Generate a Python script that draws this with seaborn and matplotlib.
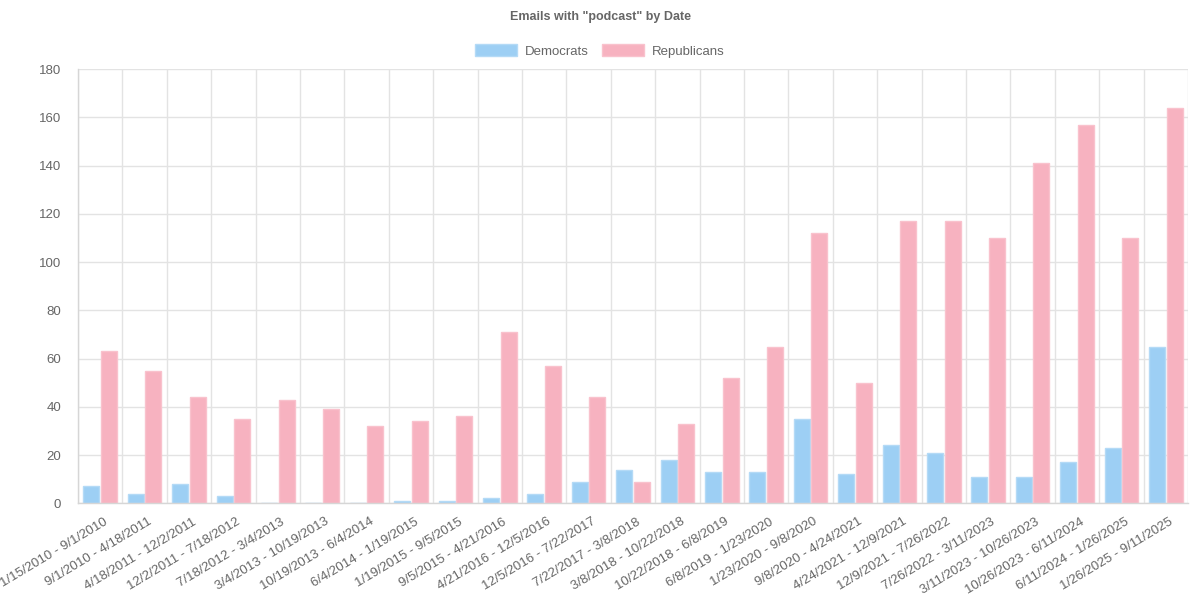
import numpy as np
import pandas as pd
import matplotlib
matplotlib.use("Agg")
import matplotlib.pyplot as plt
import matplotlib.transforms as mtrans
import seaborn as sns
from matplotlib.patches import Patch

# date ranges on the x axis
periods = [
    "1/15/2010 - 9/1/2010", "9/1/2010 - 4/18/2011", "4/18/2011 - 12/2/2011",
    "12/2/2011 - 7/18/2012", "7/18/2012 - 3/4/2013", "3/4/2013 - 10/19/2013",
    "10/19/2013 - 6/4/2014", "6/4/2014 - 1/19/2015", "1/19/2015 - 9/5/2015",
    "9/5/2015 - 4/21/2016", "4/21/2016 - 12/5/2016", "12/5/2016 - 7/22/2017",
    "7/22/2017 - 3/8/2018", "3/8/2018 - 10/22/2018", "10/22/2018 - 6/8/2019",
    "6/8/2019 - 1/23/2020", "1/23/2020 - 9/8/2020", "9/8/2020 - 4/24/2021",
    "4/24/2021 - 12/9/2021", "12/9/2021 - 7/26/2022", "7/26/2022 - 3/11/2023",
    "3/11/2023 - 10/26/2023", "10/26/2023 - 6/11/2024", "6/11/2024 - 1/26/2025",
    "1/26/2025 - 9/11/2025",
]
democrats = [7, 4, 8, 3, 0, 0, 0, 1, 1, 2, 4, 9, 14, 18, 13, 13, 35, 12, 24, 21, 11, 11, 17, 23, 65]
republicans = [63, 55, 44, 35, 43, 39, 32, 34, 36, 71, 57, 44, 9, 33, 52, 65, 112, 50, 117, 117, 110, 141, 157, 110, 164]
series_names = ["Democrats", "Republicans"]

df = pd.DataFrame({
    "period": periods * 2,
    "count": democrats + republicans,
    "party": [series_names[0]] * len(periods) + [series_names[1]] * len(periods),
})

blue = "#9dcff4"
pink = "#f7b2c0"
edge_blue = "#b4daf6"
edge_pink = "#f9c2cd"
grid_col = "#e3e3e3"
text_col = "#666666"

sns.set_style("white")
plt.rcParams["font.family"] = ["Liberation Sans", "DejaVu Sans"]

fig = plt.figure(figsize=(12, 6.13), dpi=100)
ax = fig.add_axes([0.065, 0.179, 0.925, 0.708])

sns.barplot(data=df, x="period", y="count", hue="party", order=periods,
            hue_order=series_names, palette=[blue, pink], width=0.8, gap=0.1,
            saturation=1, legend=False, ax=ax, zorder=2)
for bar, ec in zip(ax.patches, [edge_blue] * len(periods) + [edge_pink] * len(periods)):
    bar.set_edgecolor(ec)
    bar.set_linewidth(1)

ax.set_xlim(-0.5, len(periods) - 0.5)
ax.set_ylim(0, 180)
ax.set_yticks(np.arange(0, 181, 20))

# vertical grid lines between categories, like chart.js
ax.set_xticks(np.arange(-0.5, len(periods), 1), minor=True)
ax.grid(which="minor", axis="x", color=grid_col, linewidth=1, zorder=0)
ax.grid(which="major", axis="y", color=grid_col, linewidth=1, zorder=0)
ax.tick_params(axis="x", which="minor", length=9, color=grid_col, width=1)
ax.tick_params(axis="x", which="major", length=0, pad=9)
ax.tick_params(axis="y", length=8, color=grid_col, width=1, pad=4)

ax.set_xticks(range(len(periods)))
ax.set_xticklabels(periods, rotation=31, ha="right", rotation_mode="anchor",
                   fontsize=9.5, color=text_col)
shift = mtrans.ScaledTranslation(3 / 100, 0, fig.dpi_scale_trans)
for lbl in ax.get_xticklabels():
    lbl.set_transform(lbl.get_transform() + shift)
for lbl in ax.get_yticklabels():
    lbl.set_fontsize(9.5)
    lbl.set_color(text_col)

for side in ["top", "right"]:
    ax.spines[side].set_visible(False)
for side in ["left", "bottom"]:
    ax.spines[side].set_color("#d6d6d6")
    ax.spines[side].set_linewidth(1)

ax.set_xlabel("")
ax.set_ylabel("")

fig.text(0.5, 0.972, 'Emails with "podcast" by Date', ha="center", va="center",
         fontsize=9, fontweight="bold", color=text_col)

handles = [Patch(facecolor=blue, edgecolor=edge_blue, label=series_names[0]),
           Patch(facecolor=pink, edgecolor=edge_pink, label=series_names[1])]
leg = fig.legend(handles=handles, loc="center", bbox_to_anchor=(0.5, 0.917),
                 ncol=2, frameon=False, fontsize=9.5, handlelength=3.2,
                 handleheight=1.0, columnspacing=1.0, handletextpad=0.6)
for t in leg.get_texts():
    t.set_color(text_col)

fig.savefig("out.png", dpi=100)
